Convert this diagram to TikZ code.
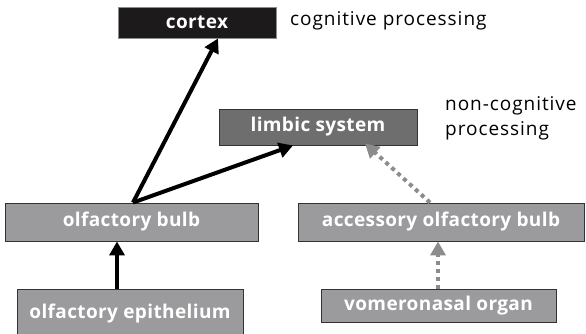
\documentclass[tikz,border=0pt]{standalone}
\usepackage{fontspec}
\setmainfont{Open Sans}[LetterSpace=2]
\newfontfamily\notefont{Open Sans}[LetterSpace=5]
\usetikzlibrary{arrows.meta}
\definecolor{boxdark}{HTML}{1C1A1B}
\definecolor{boxmid}{HTML}{6E6E6E}
\definecolor{boxlight}{HTML}{9B9B9D}
\definecolor{dotgray}{HTML}{8C8C8C}
\tikzset{
  region/.style={draw=black!80, line width=0.9pt, text=white, font=\fontsize{19}{22}\selectfont\bfseries, inner sep=0pt},
  solidarrow/.style={line width=4pt, -{Triangle[length=14pt,width=15pt]}},
  dotarrow/.style={dotgray, line width=4pt, dash pattern=on 4pt off 4pt, -{Triangle[length=14pt,width=15pt]}},
  note/.style={font=\notefont\fontsize{19}{25}\selectfont, anchor=west, inner sep=0pt}
}
\begin{document}
\begin{tikzpicture}[x=1pt,y=-1pt]
\useasboundingbox (0,0) rectangle (586,333);
% brain regions
\node[region, fill=boxdark, draw=black!45, minimum width=158pt, minimum height=31pt] (cx) at (197,22.5) {cortex};
\node[region, fill=boxmid, minimum width=198pt, minimum height=36pt] (lb) at (318,127) {limbic system};
\node[region, fill=boxlight, minimum width=253pt, minimum height=38pt] (ob) at (131.5,222) {olfactory bulb};
\node[region, fill=boxlight, minimum width=286pt, minimum height=38pt] (ab) at (441,222) {accessory olfactory bulb};
\node[region, fill=boxlight, minimum width=226pt, minimum height=50pt] (ep) at (130,314) {\raisebox{2pt}{olfactory epithelium}};
\node[region, fill=boxlight, minimum width=235pt, minimum height=33pt] (vo) at (438.5,305.5) {vomeronasal organ};
% annotations
\node[note] (cog) at (290,21) {cognitive processing};
\node[note, align=left, anchor=north west] (noncog) at (445,96) {non-cognitive\\processing};
% pathways
\coordinate (obtop) at ([xshift=1.5pt]ob.north);
\draw[solidarrow] ([xshift=-13pt]ep.north) -- ([xshift=-14.5pt]ob.south);
\draw[solidarrow] (obtop) -- ([xshift=21pt]cx.south);
\draw[solidarrow] (obtop) -- ([xshift=-25pt]lb.south);
\draw[dotarrow] ([xshift=-11pt]ab.north) -- ([xshift=47pt,yshift=2pt]lb.south);
\draw[dotarrow] ([xshift=-0.5pt]vo.north) -- ([xshift=-3pt]ab.south);
\end{tikzpicture}
\end{document}
